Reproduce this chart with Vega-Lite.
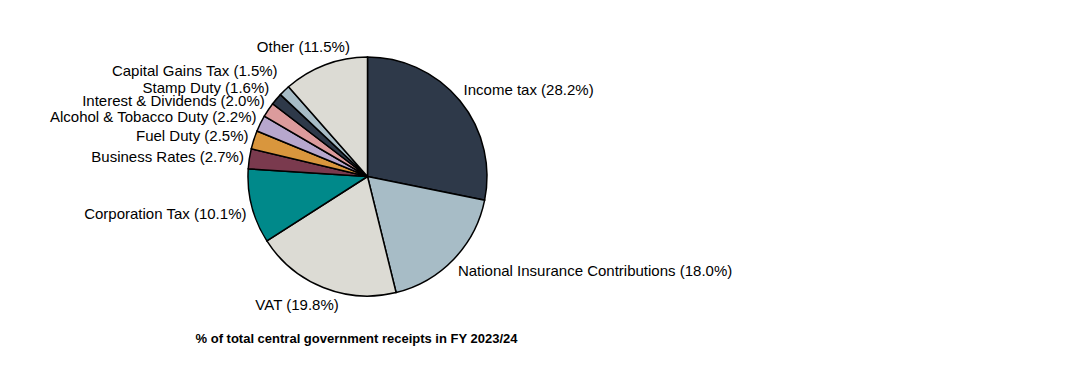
{
  "$schema": "https://vega.github.io/schema/vega-lite/v6.json",
  "width": 239,
  "height": 239,
  "autosize": "none",
  "padding": {"left": 248, "top": 57, "right": 601, "bottom": 84},
  "background": "white",
  "view": {"stroke": null},
  "config": {"text": {"font": "Liberation Sans Narrow, Arial Narrow, Liberation Sans, sans-serif", "fontSize": 15, "fill": "black"}},
  "title": {
    "text": "% of total central government receipts in FY 2023/24",
    "orient": "bottom",
    "anchor": "middle",
    "dx": -11,
    "offset": 20,
    "font": "Liberation Sans Narrow, Arial Narrow, Liberation Sans, sans-serif",
    "fontSize": 13,
    "fontWeight": "bold",
    "color": "black"
  },
  "data": {
    "values": [
      {"category": "Income tax", "share": 28.2, "label": "Income tax (28.2%)"},
      {"category": "National Insurance Contributions", "share": 18.0, "label": "National Insurance Contributions (18.0%)"},
      {"category": "VAT", "share": 19.8, "label": "VAT (19.8%)"},
      {"category": "Corporation Tax", "share": 10.1, "label": "Corporation Tax (10.1%)"},
      {"category": "Business Rates", "share": 2.7, "label": "Business Rates (2.7%)"},
      {"category": "Fuel Duty", "share": 2.5, "label": "Fuel Duty (2.5%)"},
      {"category": "Alcohol & Tobacco Duty", "share": 2.2, "label": "Alcohol & Tobacco Duty (2.2%)"},
      {"category": "Interest & Dividends", "share": 2.0, "label": "Interest & Dividends (2.0%)"},
      {"category": "Stamp Duty", "share": 1.6, "label": "Stamp Duty (1.6%)"},
      {"category": "Capital Gains Tax", "share": 1.5, "label": "Capital Gains Tax (1.5%)"},
      {"category": "Other", "share": 11.5, "label": "Other (11.5%)"}
    ]
  },
  "transform": [{"window": [{"op": "row_number", "as": "idx"}]}],
  "encoding": {
    "theta": {"field": "share", "type": "quantitative", "stack": true},
    "order": {"field": "idx", "type": "quantitative"}
  },
  "layer": [
    {
      "mark": {"type": "arc", "outerRadius": 119.5, "stroke": "black", "strokeWidth": 1.5},
      "encoding": {
        "color": {
          "field": "category",
          "type": "nominal",
          "legend": null,
          "scale": {
            "domain": ["Income tax", "National Insurance Contributions", "VAT", "Corporation Tax", "Business Rates", "Fuel Duty", "Alcohol & Tobacco Duty", "Interest & Dividends", "Stamp Duty", "Capital Gains Tax", "Other"],
            "range": ["#2e3949", "#a7bcc6", "#dcdbd4", "#00898a", "#7a3a4e", "#d9963d", "#b7a7cd", "#dc9b9c", "#2e3949", "#a7bcc6", "#dcdbd4"]
          }
        }
      }
    },
    {
      "mark": {"type": "text", "radius": 128, "align": "left", "baseline": "middle", "dx": -3, "dy": -5},
      "encoding": {"text": {"condition": {"test": "datum.category === 'Income tax'", "field": "label"}, "value": ""}}
    },
    {
      "mark": {"type": "text", "radius": 128, "align": "left", "baseline": "middle", "dx": -2, "dy": 6},
      "encoding": {"text": {"condition": {"test": "datum.category === 'National Insurance Contributions'", "field": "label"}, "value": ""}}
    },
    {
      "mark": {"type": "text", "radius": 128, "align": "center", "baseline": "middle", "dx": -23, "dy": 10},
      "encoding": {"text": {"condition": {"test": "datum.category === 'VAT'", "field": "label"}, "value": ""}}
    },
    {
      "mark": {"type": "text", "radius": 125, "align": "right", "baseline": "middle", "dx": 0, "dy": 6},
      "encoding": {"text": {"condition": {"test": "datum.category === 'Corporation Tax'", "field": "label"}, "value": ""}}
    },
    {
      "mark": {"type": "text", "radius": 125, "align": "right", "baseline": "middle", "dx": 0, "dy": -1},
      "encoding": {"text": {"condition": {"test": "datum.category === 'Business Rates'", "field": "label"}, "value": ""}}
    },
    {
      "mark": {"type": "text", "radius": 125, "align": "right", "baseline": "middle", "dx": 0, "dy": -2},
      "encoding": {"text": {"condition": {"test": "datum.category === 'Fuel Duty'", "field": "label"}, "value": ""}}
    },
    {
      "mark": {"type": "text", "radius": 125, "align": "right", "baseline": "middle", "dx": 1, "dy": -4},
      "encoding": {"text": {"condition": {"test": "datum.category === 'Alcohol & Tobacco Duty'", "field": "label"}, "value": ""}}
    },
    {
      "mark": {"type": "text", "radius": 125, "align": "right", "baseline": "middle", "dx": 1, "dy": -6},
      "encoding": {"text": {"condition": {"test": "datum.category === 'Interest & Dividends'", "field": "label"}, "value": ""}}
    },
    {
      "mark": {"type": "text", "radius": 125, "align": "right", "baseline": "middle", "dx": -3, "dy": -8},
      "encoding": {"text": {"condition": {"test": "datum.category === 'Stamp Duty'", "field": "label"}, "value": ""}}
    },
    {
      "mark": {"type": "text", "radius": 125, "align": "right", "baseline": "middle", "dx": -3, "dy": -16},
      "encoding": {"text": {"condition": {"test": "datum.category === 'Capital Gains Tax'", "field": "label"}, "value": ""}}
    },
    {
      "mark": {"type": "text", "radius": 125, "align": "center", "baseline": "middle", "dx": -20, "dy": -13},
      "encoding": {"text": {"condition": {"test": "datum.category === 'Other'", "field": "label"}, "value": ""}}
    }
  ]
}
